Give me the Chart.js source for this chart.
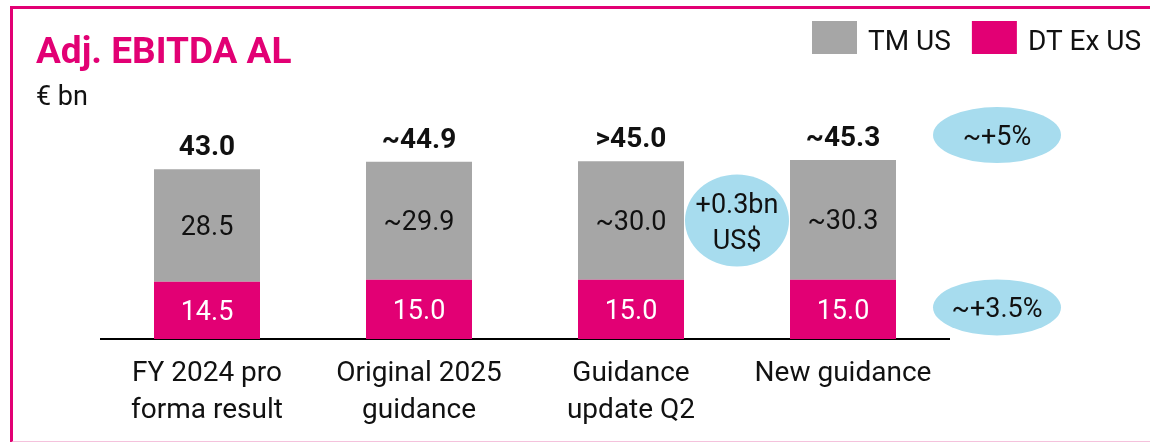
<!DOCTYPE html>
<html>
<head>
<meta charset="utf-8">
<script src="https://cdn.jsdelivr.net/npm/chart.js@4.4.0/dist/chart.umd.min.js"></script>
<style>
  body { margin: 0; background: #fff; }
  #wrap { position: relative; width: 1150px; height: 442px; overflow: hidden; }
  #frame { position: absolute; left: 10px; top: 6px; width: 1200px; height: 432px;
    border-top: 3px solid #E20074; border-left: 3px solid #E20074; border-bottom: 2px solid #F4C2DC; }
  canvas { position: absolute; left: 0; top: 0; }
</style>
</head>
<body>
<div id="wrap">
  <div id="frame"></div>
  <canvas id="chart" width="1150" height="442"></canvas>
</div>
<script>
const categories = [["FY 2024 pro", "forma result"], ["Original 2025", "guidance"], ["Guidance", "update Q2"], ["New guidance"]];
const dtExUs = [14.5, 15.0, 15.0, 15.0];
const tmUs = [28.5, 29.9, 30.0, 30.3];
const dtLabels = ["14.5", "15.0", "15.0", "15.0"];
const tmLabels = ["28.5", "~29.9", "~30.0", "~30.3"];
const totalLabels = ["43.0", "~44.9", ">45.0", "~45.3"];
const fxNote = ["+0.3bn", "US$"];
const growthTm = "~+5%";
const growthDt = "~+3.5%";

const magenta = '#E20074';
const grey = '#A6A6A6';
const lightBlue = '#A7DCEE';
const FONT = 'Roboto';

function ellipse(ctx, cx, cy, rx, ry) {
    ctx.beginPath();
    ctx.ellipse(cx, cy, rx, ry, 0, 0, Math.PI * 2);
    ctx.fillStyle = lightBlue;
    ctx.fill();
}

// all the texts and callouts on top of the bars
const annotate = {
    id: 'annotate',
    afterDraw(chart) {
        const ctx = chart.ctx;
        const area = chart.chartArea;
        const dtBars = chart.getDatasetMeta(0).data;
        const tmBars = chart.getDatasetMeta(1).data;

        ctx.save();
        ctx.textBaseline = 'alphabetic';

        // title + unit
        ctx.textAlign = 'left';
        ctx.fillStyle = magenta;
        ctx.font = 'bold 37px ' + FONT;
        ctx.fillText('Adj. EBITDA AL', 36, 63);
        ctx.fillStyle = '#111';
        ctx.font = '27px ' + FONT;
        ctx.fillText('€ bn', 36, 105);

        // legend
        let lx = 812;
        ctx.font = '28px ' + FONT;
        [1, 0].forEach(i => {
            const ds = chart.data.datasets[i];
            ctx.fillStyle = ds.backgroundColor;
            ctx.fillRect(lx, 21, 45, 33);
            ctx.fillStyle = '#111';
            ctx.fillText(ds.label, lx + 56, 50);
            lx += 56 + ctx.measureText(ds.label).width + 21;
        });

        ctx.textAlign = 'center';
        // values in segments
        ctx.font = '27px ' + FONT;
        dtBars.forEach((bar, i) => {
            ctx.fillStyle = '#fff';
            ctx.fillText(dtLabels[i], bar.x, (bar.y + bar.base) / 2 + 9.5);
        });
        tmBars.forEach((bar, i) => {
            ctx.fillStyle = '#111';
            ctx.fillText(tmLabels[i], bar.x, (bar.y + bar.base) / 2 + 9.5);
        });
        // totals
        ctx.font = 'bold 28px ' + FONT;
        tmBars.forEach((bar, i) => {
            ctx.fillStyle = '#111';
            ctx.fillText(totalLabels[i], bar.x, bar.y - 14);
        });

        // fx callout between bar 3 and 4
        const fx = (tmBars[2].x + tmBars[3].x) / 2;
        const fy = (tmBars[2].y + tmBars[2].base) / 2;
        ellipse(ctx, fx, fy, 52, 46);
        ctx.fillStyle = '#111';
        ctx.font = '27px ' + FONT;
        ctx.fillText(fxNote[0], fx, fy - 8);
        ctx.fillText(fxNote[1], fx, fy + 28);

        // growth callouts
        const gx = area.right + 48;
        const gy1 = tmBars[3].y - 25;
        const gy2 = (dtBars[3].y + dtBars[3].base) / 2 - 2;
        ctx.font = '27px ' + FONT;
        ellipse(ctx, gx, gy1, 64, 28);
        ctx.fillStyle = '#111';
        ctx.fillText(growthTm, gx, gy1 + 10);
        ellipse(ctx, gx, gy2, 64, 28);
        ctx.fillStyle = '#111';
        ctx.fillText(growthDt, gx, gy2 + 10);

        ctx.restore();
    }
};

new Chart(document.getElementById('chart'), {
    type: 'bar',
    data: {
        labels: categories,
        datasets: [
            { label: 'DT Ex US', data: dtExUs, backgroundColor: magenta, barPercentage: 1, categoryPercentage: 0.5 },
            { label: 'TM US', data: tmUs, backgroundColor: grey, barPercentage: 1, categoryPercentage: 0.5 }
        ]
    },
    options: {
        responsive: false,
        animation: false,
        layout: { padding: { left: 101, right: 201, top: 141.5, bottom: 0 } },
        plugins: { legend: { display: false }, tooltip: { enabled: false } },
        scales: {
            x: {
                stacked: true,
                grid: { display: false, drawTicks: false },
                border: { display: true, color: '#000', width: 2 },
                ticks: { color: '#111', font: { family: FONT, size: 28, lineHeight: 1.32 }, padding: 17, maxRotation: 0, autoSkip: false },
                afterFit(axis) { axis.height = 103; }
            },
            y: { stacked: true, display: false, min: 0, max: 50 }
        }
    },
    plugins: [annotate]
});
</script>
</body>
</html>
